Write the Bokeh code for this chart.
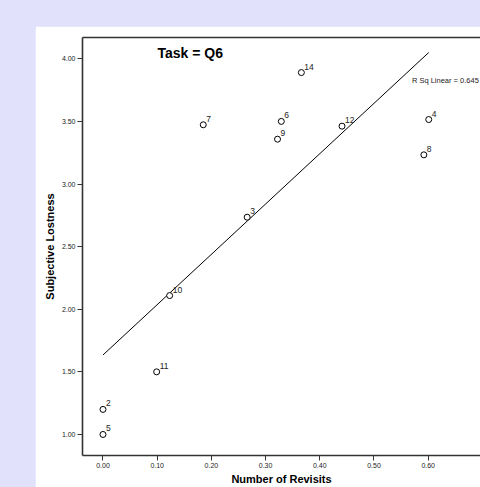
import numpy as np
from bokeh.plotting import figure
from bokeh.models import (ColumnDataSource, Label, LinearAxis, Range1d, FixedTicker,
                          Spacer, GlobalInlineStyleSheet)
from bokeh.layouts import column, row
from bokeh.core.properties import value
from bokeh.embed import file_html
from bokeh.resources import INLINE

# ---- data ----
case_ids = ["2", "3", "4", "5", "6", "7", "8", "9", "10", "11", "12", "14"]
revisits = [0.00, 0.266, 0.601, 0.00, 0.329, 0.185, 0.592, 0.322, 0.123, 0.099, 0.441, 0.366]
lostness = [1.20, 2.735, 3.515, 1.00, 3.50, 3.473, 3.233, 3.358, 2.109, 1.50, 3.462, 3.89]
x_ticks = [0.0, 0.1, 0.2, 0.3, 0.4, 0.5, 0.6, 0.7]
y_ticks = [1.0, 1.5, 2.0, 2.5, 3.0, 3.5, 4.0]
panel_title = "Task = Q6"
x_title = "Number of Revisits"
y_title = "Subjective Lostness"
fit_label = "R Sq Linear = 0.645"

FONT = "Liberation Sans"
LINE = "#333333"
LAV = "#E1E1FC"

xs = np.array(revisits)
ys = np.array(lostness)
slope, intercept = np.polyfit(xs, ys, 1)
fit_x = [xs.min(), xs.max()]
fit_y = [intercept + slope * v for v in fit_x]

p = figure(width=445, height=461, output_backend="svg", toolbar_location=None,
           x_range=Range1d(-0.0378, 0.6965), y_range=Range1d(0.832, 4.17),
           min_border_left=47, min_border_top=11, min_border_bottom=32, min_border_right=0)
p.background_fill_color = "white"
p.border_fill_color = "white"
p.outline_line_color = None
p.xgrid.visible = False
p.ygrid.visible = False

for ax in (p.xaxis[0], p.yaxis[0]):
    ax.axis_line_color = LINE
    ax.axis_line_width = 1.6
    ax.major_tick_line_color = LINE
    ax.major_tick_line_width = 1
    ax.major_tick_out = 5
    ax.major_tick_in = 0
    ax.minor_tick_line_color = None
    ax.major_label_text_font = FONT
    ax.major_label_text_font_size = "7px"
    ax.major_label_text_color = "#222222"
    ax.major_label_standoff = 2
    ax.axis_label_text_font = FONT
    ax.axis_label_text_font_size = "11px"
    ax.axis_label_text_font_style = "bold"
    ax.axis_label_text_color = "black"

p.xaxis[0].ticker = FixedTicker(ticks=x_ticks)
p.yaxis[0].ticker = FixedTicker(ticks=y_ticks)
p.xaxis[0].major_label_overrides = {t: f"{t:.2f}" for t in x_ticks}
p.yaxis[0].major_label_overrides = {t: f"{t:.2f}" for t in y_ticks}
p.xaxis[0].axis_label = x_title
p.xaxis[0].axis_label_standoff = 2
p.yaxis[0].axis_label = y_title
p.yaxis[0].axis_label_standoff = 3

# top border line via an axis without ticks/labels
top = LinearAxis(ticker=FixedTicker(ticks=[]), axis_line_color=LINE, axis_line_width=1.6,
                 major_tick_line_color=None, minor_tick_line_color=None,
                 major_label_text_font_size="0px")
p.add_layout(top, "above")

# regression line
p.line(fit_x, fit_y, line_color="black", line_width=1)

src = ColumnDataSource(dict(x=revisits, y=lostness, lab=case_ids))
p.scatter("x", "y", source=src, size=6, marker="circle", fill_color="white",
          line_color="black", line_width=1)
p.text("x", "y", text="lab", source=src, x_offset=3, y_offset=-3,
       text_font=value(FONT), text_font_size="8.5px", text_color="#222222",
       text_baseline="bottom", text_align="left")

p.add_layout(Label(x=0.1006, y=4.108, text=panel_title, text_font=FONT,
                   text_font_size="14px", text_font_style="bold",
                   text_baseline="top", text_align="left", text_color="black"))
p.add_layout(Label(x=0.570, y=3.829, text=fit_label, text_font=FONT,
                   text_font_size="7.5px", text_baseline="middle", text_align="left",
                   text_color="#222222"))

page = column(Spacer(width=480, height=26),
              row(Spacer(width=35, height=461), p),
              width=480, height=487, styles={"background-color": LAV})
page.stylesheets = [GlobalInlineStyleSheet(css=f"html, body {{ background-color: {LAV}; }}")]

html = file_html(page, INLINE)
html = html.replace("<body>", f'<body style="background:{LAV}">', 1)
open("out.html", "w").write(html)
